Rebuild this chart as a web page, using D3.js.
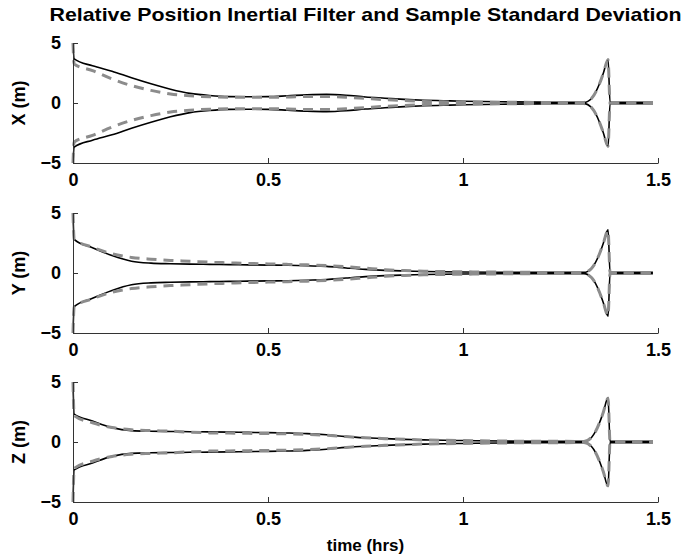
<!DOCTYPE html>
<html>
<head>
<meta charset="utf-8">
<script src="https://cdn.jsdelivr.net/npm/d3@7"></script>
<style>
  body { margin: 0; background: #fff; }
  text { font-family: 'Liberation Sans', Arial, Helvetica, sans-serif; font-weight: bold; }
</style>
</head>
<body>
<div id="chart"></div>
<script>
// time grid (hrs), shared by all three panels
const time = [0, 0.003, 0.05, 0.1, 0.15, 0.2, 0.25, 0.3, 0.35, 0.4, 0.45, 0.5, 0.55, 0.6, 0.65,
  0.7, 0.75, 0.8, 0.85, 0.9, 0.95, 1.0, 1.1, 1.2, 1.31, 1.33, 1.35, 1.36, 1.372, 1.377, 1.487];

// inertial filter 1-sigma (solid black), drawn as +/- envelope
const xFilter = [5, 3.67, 3.1, 2.65, 2.1, 1.6, 1.15, 0.8, 0.62, 0.53, 0.52, 0.53, 0.6, 0.68, 0.72,
  0.65, 0.5, 0.4, 0.3, 0.23, 0.19, 0.15, 0.1, 0.07, 0.05, 0.4, 1.6, 2.5, 3.65, 0.05, 0.05];
const yFilter = [5, 2.8, 2.1, 1.45, 0.98, 0.82, 0.77, 0.74, 0.72, 0.7, 0.68, 0.66, 0.64, 0.6, 0.55,
  0.42, 0.3, 0.22, 0.17, 0.13, 0.1, 0.08, 0.06, 0.05, 0.05, 0.4, 1.6, 2.5, 3.6, 0.05, 0.05];
const zFilter = [5, 2.33, 1.75, 1.2, 0.95, 0.9, 0.88, 0.86, 0.84, 0.82, 0.8, 0.78, 0.75, 0.7, 0.6,
  0.45, 0.35, 0.28, 0.22, 0.18, 0.14, 0.12, 0.08, 0.06, 0.05, 0.4, 1.6, 2.5, 3.7, 0.05, 0.05];

// sample standard deviation (dashed grey)
const xSample = [5, 3.25, 2.7, 2.0, 1.45, 1.05, 0.75, 0.6, 0.52, 0.48, 0.47, 0.48, 0.5, 0.55, 0.55,
  0.48, 0.38, 0.28, 0.2, 0.13, 0.1, 0.08, 0.06, 0.05, 0.05, 0.4, 1.6, 2.5, 3.6, 0.05, 0.05];
const ySample = [5, 2.8, 2.15, 1.6, 1.3, 1.15, 1.05, 0.98, 0.9, 0.85, 0.8, 0.76, 0.72, 0.68, 0.62,
  0.52, 0.4, 0.28, 0.2, 0.15, 0.12, 0.1, 0.07, 0.05, 0.05, 0.4, 1.6, 2.5, 3.55, 0.05, 0.05];
const zSample = [5, 2.2, 1.6, 1.2, 1.02, 0.95, 0.9, 0.82, 0.76, 0.74, 0.72, 0.7, 0.68, 0.64, 0.56,
  0.45, 0.35, 0.28, 0.22, 0.17, 0.14, 0.12, 0.08, 0.06, 0.05, 0.4, 1.6, 2.5, 3.65, 0.05, 0.05];

const panelLabels = ['X (m)', 'Y (m)', 'Z (m)'];
const xTicks = [0, 0.5, 1, 1.5];
const yTicks = [-5, 0, 5];

const panels = [
  { label: panelLabels[0], filter: xFilter, sample: xSample },
  { label: panelLabels[1], filter: yFilter, sample: ySample },
  { label: panelLabels[2], filter: zFilter, sample: zSample }
];

const W = 685, H = 559;
const left = 73, right = 658, plotH = 120, tops = [43, 213, 382];

const svg = d3.select('#chart').append('svg').attr('width', W).attr('height', H);

const x = d3.scaleLinear().domain([0, 1.5]).range([left, right]);

svg.append('text')
  .attr('x', (left + right) / 2).attr('y', 21)
  .attr('text-anchor', 'middle')
  .attr('textLength', 632).attr('lengthAdjust', 'spacingAndGlyphs')
  .style('font-size', '19px')
  .text('Relative Position Inertial Filter and Sample Standard Deviation');

panels.forEach((p, i) => {
  const top = tops[i];
  const y = d3.scaleLinear().domain([-5, 5]).range([top + plotH, top]);
  const g = svg.append('g');

  const line = d3.line().x(d => x(d[0])).y(d => y(d[1])).curve(d3.curveMonotoneX);
  const up = arr => time.map((t, k) => [t, arr[k]]);
  const down = arr => time.map((t, k) => [t, -arr[k]]);

  // solid filter sigma
  [up(p.filter), down(p.filter)].forEach(pts => {
    g.append('path').attr('d', line(pts))
      .attr('fill', 'none').attr('stroke', '#000').attr('stroke-width', 1.6);
  });
  // dashed sample std
  [up(p.sample), down(p.sample)].forEach(pts => {
    g.append('path').attr('d', line(pts))
      .attr('fill', 'none').attr('stroke', '#8c8c8c').attr('stroke-width', 3)
      .attr('stroke-dasharray', '10,7');
  });

  // axes, MATLAB style: ticks pointing inside
  const xAxis = d3.axisBottom(x).tickValues(xTicks).tickSizeInner(-5).tickSizeOuter(0)
    .tickFormat(d3.format('~g')).tickPadding(10);
  const yAxis = d3.axisLeft(y).tickValues(yTicks).tickSizeInner(-5).tickSizeOuter(0)
    .tickFormat(d => d < 0 ? '\u2212' + Math.abs(d) : d).tickPadding(12);

  const gx = g.append('g').attr('transform', `translate(0,${top + plotH})`).call(xAxis);
  const gy = g.append('g').attr('transform', `translate(${left},0)`).call(yAxis);
  [gx, gy].forEach(a => {
    a.select('.domain').attr('stroke', '#333');
    a.selectAll('.tick line').attr('stroke', '#333');
    a.selectAll('text').style('font-size', '18px').attr('fill', '#000')
      .style('font-family', "'Liberation Sans', Arial, sans-serif").style('font-weight', 'bold');
  });

  g.append('text')
    .attr('transform', `translate(25,${top + plotH / 2}) rotate(-90)`)
    .attr('text-anchor', 'middle')
    .style('font-size', '18px')
    .text(p.label);
});

svg.append('text')
  .attr('x', (left + right) / 2).attr('y', 551)
  .attr('text-anchor', 'middle')
  .style('font-size', '17px')
  .text('time (hrs)');
</script>
</body>
</html>
